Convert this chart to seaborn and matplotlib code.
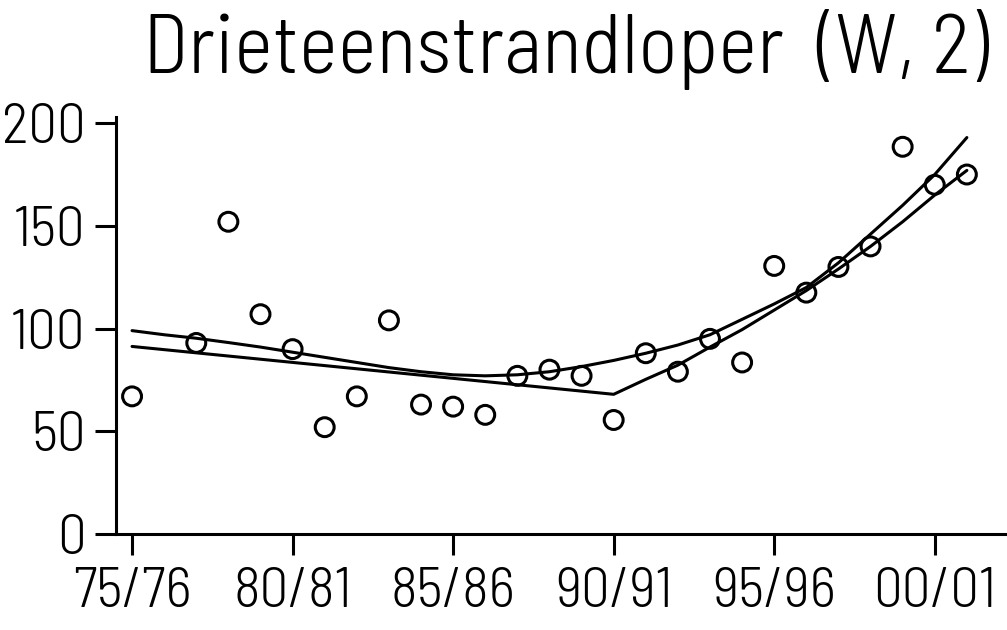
import pandas as pd
import matplotlib
matplotlib.use("Agg")
import matplotlib.pyplot as plt
import seaborn as sns

# seizoenen (startjaar) met een telling
years = [1975, 1977, 1978, 1979, 1980, 1981, 1982, 1983, 1984, 1985, 1986,
         1987, 1988, 1989, 1990, 1991, 1992, 1993, 1994, 1995, 1996, 1997,
         1998, 1999, 2000, 2001]
counts = [67, 93, 152, 107, 90, 52, 67, 104, 63, 62, 58,
          77, 80, 77, 55.5, 88, 79, 95, 83.5, 130.5, 117.5, 130,
          140, 188.5, 170, 175]

# trendlijn 1 (geknikt, lineair tot 90/91)
trend1_years = [1975, 1990, 1991, 1992, 1993, 1994, 1995, 1996, 1997, 1998,
                1999, 2000, 2001]
trend1 = [91.3, 68, 75.3, 82.2, 91, 99.5, 109, 118.5, 129, 140,
          152, 165, 177]

# trendlijn 2 (glad)
trend2_years = list(range(1975, 2002))
trend2 = [99, 97, 95.3, 93.2, 91, 88.5, 86, 83.5, 81, 79, 77.5, 77, 77.5,
          79, 81.5, 84.5, 88, 92, 97, 104.5, 112, 120, 132, 146, 160, 175, 193]

tick_years = [1975, 1980, 1985, 1990, 1995, 2000]
tick_labels = ["75/76", "80/81", "85/86", "90/91", "95/96", "00/01"]
y_ticks = [0, 50, 100, 150, 200]

sns.set_style("ticks")
plt.rcParams["font.family"] = ["Barlow Semi Condensed", "Barlow Condensed",
                               "Roboto", "DejaVu Sans"]
plt.rcParams["font.weight"] = 300
plt.rcParams["text.color"] = "black"

fig = plt.figure(figsize=(10.07, 6.3), dpi=100)
ax = fig.add_axes([116 / 1007, 96 / 630, 891 / 1007, 417 / 630])

pts = pd.DataFrame({"jaar": years, "aantal": counts})
t1 = pd.DataFrame({"jaar": trend1_years, "aantal": trend1})
t2 = pd.DataFrame({"jaar": trend2_years, "aantal": trend2})

sns.lineplot(data=t1, x="jaar", y="aantal", color="black", linewidth=2.2, ax=ax)
sns.lineplot(data=t2, x="jaar", y="aantal", color="black", linewidth=2.2, ax=ax)
sns.scatterplot(data=pts, x="jaar", y="aantal", marker="o", s=185,
                facecolor="none", edgecolor="black", linewidth=2.2, zorder=3, ax=ax)

ax.set_xlim(1974.5, 2002.25)
ax.set_ylim(0, 203)
ax.set_xticks(tick_years)
ax.set_xticklabels(tick_labels)
ax.set_yticks(y_ticks)
ax.set_xlabel("")
ax.set_ylabel("")
ax.tick_params(axis="both", length=15, width=2.2, labelsize=41, pad=9,
               colors="black")
ax.tick_params(axis="y", pad=7)
for side in ["top", "right"]:
    ax.spines[side].set_visible(False)
for side in ["left", "bottom"]:
    ax.spines[side].set_linewidth(2.2)
    ax.spines[side].set_color("black")

fig.text(566 / 1007, 1 - 73 / 630, "Drieteenstrandloper  (W, 2)",
         ha="center", va="baseline", fontsize=60, color="black")

fig.savefig("out.png", dpi=100)
